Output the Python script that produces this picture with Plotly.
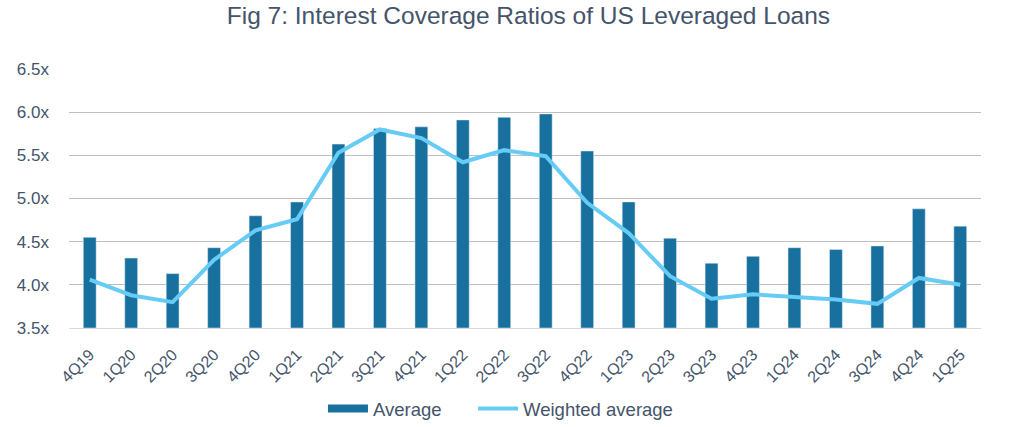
import plotly.graph_objects as go

quarters = ["4Q19", "1Q20", "2Q20", "3Q20", "4Q20", "1Q21", "2Q21", "3Q21", "4Q21",
            "1Q22", "2Q22", "3Q22", "4Q22", "1Q23", "2Q23", "3Q23", "4Q23", "1Q24",
            "2Q24", "3Q24", "4Q24", "1Q25"]
average = [4.55, 4.31, 4.13, 4.43, 4.80, 4.96, 5.63, 5.81, 5.83, 5.91, 5.94,
           5.98, 5.55, 4.96, 4.54, 4.25, 4.33, 4.43, 4.41, 4.45, 4.88, 4.68]
weighted_average = [4.06, 3.88, 3.80, 4.29, 4.63, 4.76, 5.53, 5.80, 5.70, 5.42, 5.56,
                    5.49, 4.95, 4.60, 4.10, 3.84, 3.89, 3.86, 3.83, 3.78, 4.08, 4.00]
y_ticks = [3.5, 4.0, 4.5, 5.0, 5.5, 6.0, 6.5]
y_tick_labels = ["3.5x", "4.0x", "4.5x", "5.0x", "5.5x", "6.0x", "6.5x"]

text_color = "#44546A"
bar_color = "#17709E"
line_color = "#66CCF5"
font_family = "Liberation Sans, Arial, sans-serif"

fig = go.Figure()
fig.add_trace(go.Bar(
    x=quarters, y=[v - 3.5 for v in average], base=3.5,
    name="Average", marker_color=bar_color, width=0.31,
    showlegend=False, legendgroup="avg",
))
# legend entry drawn as a wide swatch like the original
fig.add_trace(go.Scatter(
    x=[None], y=[None], mode="lines", name="Average", legendgroup="avg",
    line=dict(color=bar_color, width=8), legend="legend",
))
fig.add_trace(go.Scatter(
    x=quarters, y=weighted_average, mode="lines", name="Weighted average",
    line=dict(color=line_color, width=4), legend="legend2",
))

legend_common = dict(orientation="h", xref="container", xanchor="left",
                     yref="container", y=0.042, yanchor="middle",
                     font=dict(size=18.5, color=text_color), itemwidth=40,
                     bgcolor="rgba(0,0,0,0)")

fig.update_layout(
    width=1024, height=427,
    margin=dict(l=69, r=43, t=69, b=99, autoexpand=False),
    paper_bgcolor="white", plot_bgcolor="white",
    font=dict(family=font_family, color=text_color, size=16),
    title=dict(text="Fig 7: Interest Coverage Ratios of US Leveraged Loans",
               x=0.516, xanchor="center", yref="container", y=0.963, yanchor="middle",
               font=dict(size=24.5, color=text_color, family=font_family)),
    showlegend=True,
    legend=dict(x=0.3154, **legend_common),
    legend2=dict(x=0.462, **legend_common),
)
fig.update_xaxes(
    type="category", tickangle=-45, tickfont=dict(size=16, color=text_color),
    showgrid=False, showline=True, linecolor="#D9D9D9", linewidth=1,
    ticks="", ticklabelstandoff=10, automargin=False,
)
fig.update_yaxes(
    range=[3.5, 6.5], tickvals=y_ticks, ticktext=y_tick_labels,
    showgrid=True, gridcolor="#BFBFBF", gridwidth=1, zeroline=False,
    tickfont=dict(size=17, color=text_color), ticks="", showline=False,
    ticklabelstandoff=19, automargin=False,
)

fig.write_html("out.html", config={"displayModeBar": False},
               post_script="document.body.style.margin='0';")
